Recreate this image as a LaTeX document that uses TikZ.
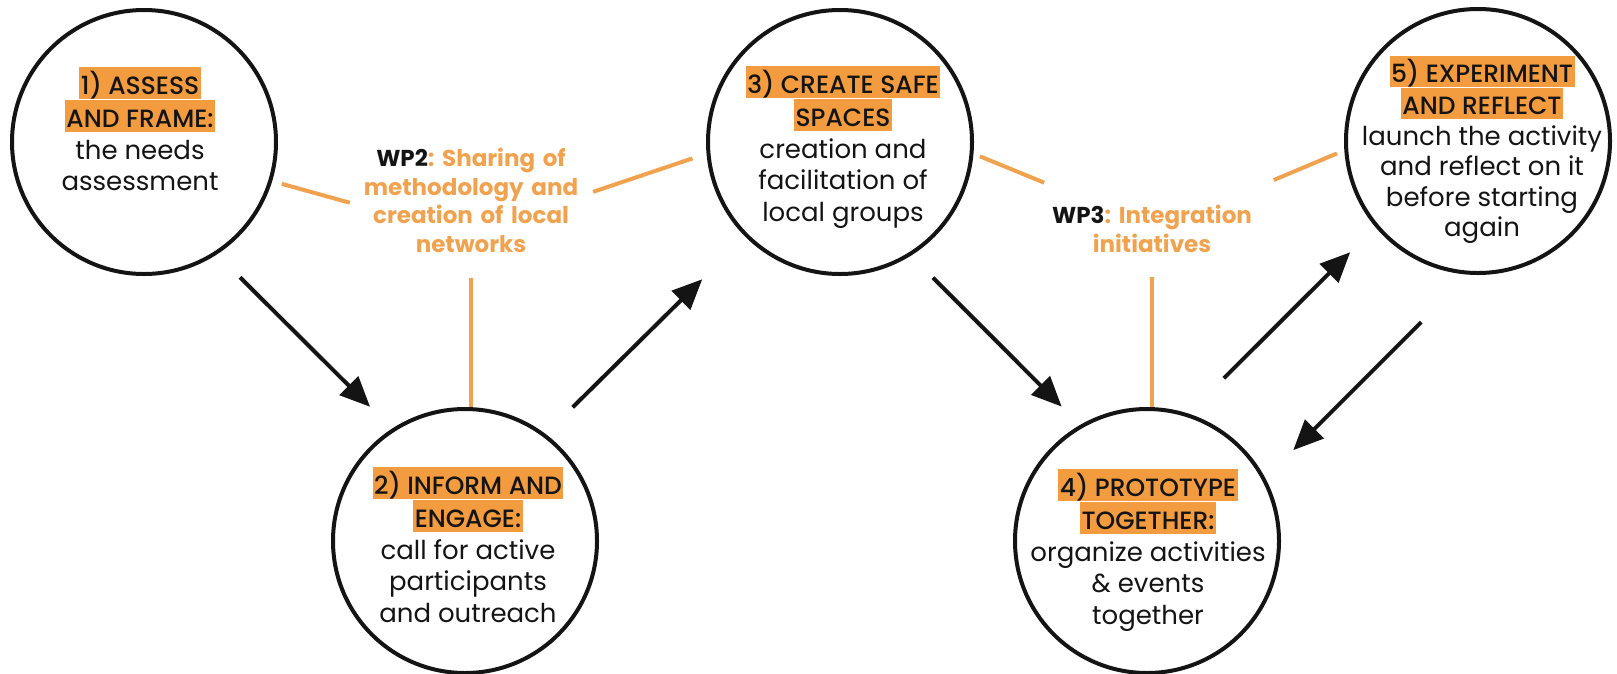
\documentclass[tikz,border=0pt]{standalone}
\usepackage{fontspec}
\setmainfont{Poppins}
\newfontfamily\headfont{Poppins Medium}
\newfontfamily\wpfont{Poppins Bold}
\usetikzlibrary{arrows.meta}
\frenchspacing

\definecolor{hl}{HTML}{F29B3F}
\definecolor{orangetxt}{HTML}{F0A24E}
\definecolor{ink}{HTML}{141414}

% highlighted heading line: orange band exactly one line tall
\newcommand\hlline[1]{{\setlength{\fboxsep}{0pt}\colorbox{hl}{\rule[-4pt]{0pt}{\baselineskip}\kern1.5pt\headfont\fontsize{25}{\baselineskip}\selectfont #1\kern1.5pt}}}
% strut for the work-package labels
\newcommand\wpst{\rule[-8pt]{0pt}{28.5pt}}

\tikzset{
  stage/.style={circle, draw=ink, line width=4pt, minimum size=264pt, inner sep=0pt},
  stagetext/.style={anchor=north, align=center, inner sep=0pt, text=ink,
    font=\fontsize{26}{31.5}\selectfont},
  wplabel/.style={align=center, inner sep=0pt, text width=240pt, text=orangetxt,
    font=\wpfont\fontsize{23}{28.5}\selectfont},
  flow/.style={draw=ink, line width=4pt, -{Triangle[length=30pt,width=26pt]}},
  link/.style={draw=orangetxt, line width=4pt},
}

\begin{document}
\begin{tikzpicture}[x=1pt,y=-1pt]
\useasboundingbox (0,0) rectangle (1617,673);

% stages
\node[stage] (c1) at (144,142) {};
\node[stage] (c2) at (465,541) {};
\node[stage] (c3) at (840,142) {};
\node[stage] (c4) at (1147,541) {};
\node[stage] (c5) at (1478,141) {};

\node[stagetext] (t1) at (140,67)
  {\hlline{1) ASSESS}\\\hlline{AND FRAME:}\\the needs\\assessment};
\node[stagetext] (t2) at (468,467)
  {\hlline{2) INFORM AND}\\\hlline{ENGAGE:}\\call for active\\participants\\and outreach};
\node[stagetext] (t3) at (843,66)
  {\hlline{3) CREATE SAFE}\\\hlline{SPACES}\\creation and\\facilitation of\\local groups};
\node[stagetext] (t4) at (1148,469)
  {\hlline{4) PROTOTYPE}\\\hlline{TOGETHER:}\\organize activities\\\& events\\together};
\node[stagetext, font=\fontsize{26}{30.5}\selectfont] (t5) at (1482,56)
  {\hlline{5) EXPERIMENT}\\\hlline{AND REFLECT}\\launch the activity\\and reflect on it\\before starting\\again};

% work packages
\node[wplabel] (wp2) at (471,203)
  {\wpst\textcolor{ink}{WP2}: Sharing of\\methodology and\\creation of local\\networks\wpst};
\node[wplabel] (wp3) at (1152,231.5)
  {\wpst\textcolor{ink}{WP3}: Integration\\initiatives\wpst};

% links between work packages and stages
\draw[link, shorten <=10pt, shorten >=1pt] (c1.-17) -- (wp2.west);
\draw[link, shorten <=2pt, shorten >=14.8pt] (wp2.5) -- (c3.185);
\draw[link, shorten <=18pt] (wp2.south) -- (wp2.south |- c2.north);
\draw[link, shorten <=7pt, shorten >=53pt] (c3.-5) -- (wp3.154);
\draw[link, shorten <=58.7pt, shorten >=8pt] (wp3.23) -- (c5.184);
\draw[link, shorten <=17pt] (wp3.south) -- (wp3.south |- c4.north);

% process flow
\draw[flow, shorten <=32.5pt, shorten >=31pt] (c1.-57) -- (c2.123);
\draw[flow, shorten <=38pt, shorten >=60.5pt] (c2.53) -- (c3.225);
\draw[flow, shorten <=31pt, shorten >=26pt] (c3.-58) -- (c4.120);
\draw[flow, shorten <=50pt, shorten >=35.5pt] (c4.72) -- (c5.220);
\draw[flow, shorten <=67pt, shorten >=39.5pt] (c5.266) -- (c4.28);
\end{tikzpicture}
\end{document}
